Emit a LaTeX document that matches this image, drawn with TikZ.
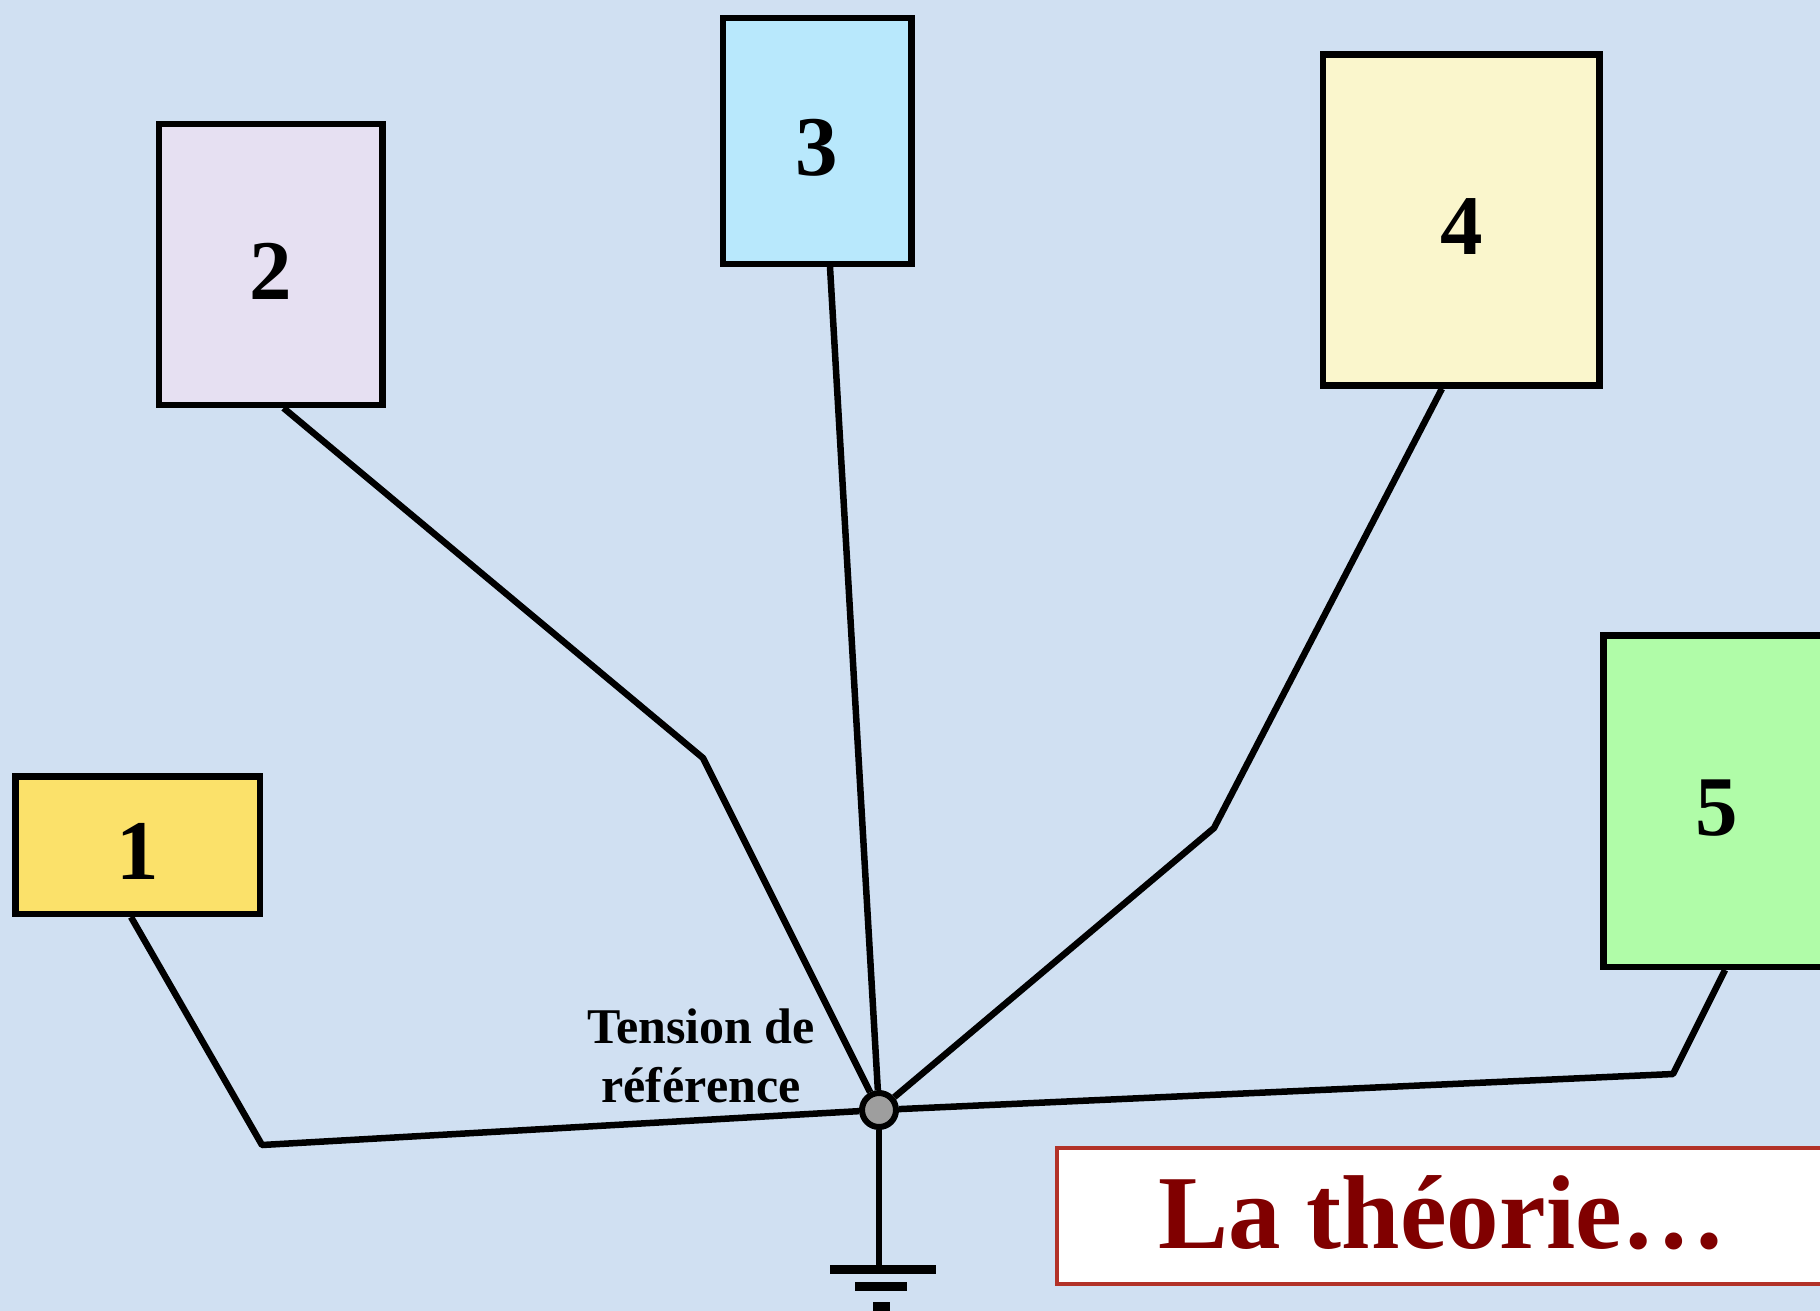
\documentclass[tikz,border=0pt]{standalone}
\usepackage{fontspec}
\setmainfont{Liberation Serif}
\definecolor{bgblue}{RGB}{208,224,242}
\definecolor{cone}{RGB}{251,225,106}
\definecolor{ctwo}{RGB}{230,224,242}
\definecolor{cthree}{RGB}{184,232,252}
\definecolor{cfour}{RGB}{250,246,204}
\definecolor{cfive}{RGB}{176,252,168}
\definecolor{titlered}{RGB}{128,0,0}
\definecolor{titleborder}{RGB}{178,50,40}
\begin{document}
\begin{tikzpicture}[x=1pt,y=-1pt,
  numbox/.style={draw=black, line width=6.5pt, rectangle, inner sep=0pt,
    font=\fontsize{85}{90}\selectfont\bfseries, text height=69pt, text depth=0pt},
  wire/.style={draw=black, line width=6.5pt, line join=round},
  refdot/.style={circle, draw=black, fill=black!38, line width=6pt, minimum size=34pt, inner sep=0pt}]
\path[use as bounding box, clip] (0,0) rectangle (1820,1311);
\fill[bgblue] (0,0) rectangle (1820,1311);

\node[numbox, fill=cone, minimum width=244.5pt, minimum height=137.5pt] (b1) at (137.5,845) {1};
\node[numbox, fill=ctwo, minimum width=223.5pt, minimum height=280.5pt] (b2) at (270.5,264.5) {2};
\node[numbox, fill=cthree, minimum width=188.5pt, minimum height=245.5pt] (b3) at (817,141) {3};
\node[numbox, fill=cfour, minimum width=276.5pt, minimum height=331pt] (b4) at (1461.4,220) {4};
\node[numbox, fill=cfive, minimum width=227.5pt, minimum height=331.5pt] (b5) at (1717,801) {5};

\node[refdot] (ref) at (879,1110) {};

\coordinate (k1) at (262,1145);
\coordinate (k2) at (703,758);
\coordinate (k4) at (1214,828);
\coordinate (k5) at (1673,1074);
\coordinate (gnd) at (879,1265);

\draw[wire] ([xshift=-6.5pt]b1.south) -- (k1) -- (ref);
\draw[wire] ([xshift=13pt]b2.south) -- (k2) -- (ref);
\draw[wire] ([xshift=13pt]b3.south) -- (ref);
\draw[wire] ([xshift=-19.5pt]b4.south) -- (k4) -- (ref);
\draw[wire] ([xshift=8pt]b5.south) -- (k5) -- (ref);
\draw[wire] (ref) -- (gnd);

\fill[black] (830,1265) rectangle (936,1274);
\fill[black] (855,1282.3) rectangle (907,1290.7);
\fill[black] (872.7,1302.3) rectangle (890,1315);

\node[align=center, font=\fontsize{50}{59}\selectfont\bfseries, inner sep=0pt, anchor=base] (lbl) at (701,1102) {Tension de\\référence};

\node[draw=titleborder, fill=white, line width=4pt, rectangle, inner sep=0pt,
  minimum width=771pt, minimum height=136pt, text=titlered,
  font=\fontsize{105}{110}\selectfont\bfseries, text height=73.5pt, text depth=9.5pt] (title) at (1442.5,1216) {La théorie…};
\end{tikzpicture}
\end{document}
